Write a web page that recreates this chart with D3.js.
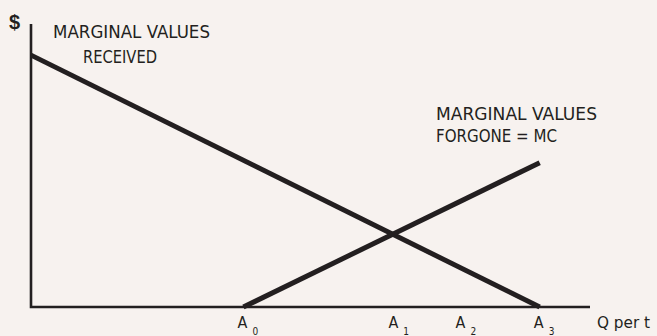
<!DOCTYPE html>
<html>
<head>
<meta charset="utf-8">
<script src="https://cdn.jsdelivr.net/npm/d3@7"></script>
<style>
  html, body { margin: 0; padding: 0; background: #f7f2ef; }
  svg { display: block; }
  text { font-family: "Liberation Sans Narrow", "DejaVu Sans Condensed", "Arial Narrow", sans-serif; fill: #231f20; }
</style>
</head>
<body>
<script>
// ---- data ----
const quantityTicks = [38, 65, 77, 91];          // A0, A1, A2, A3 on the Q axis
const tickNames = ["A", "A", "A", "A"];
const tickSubs = ["0", "1", "2", "3"];
const demandQ = [0, 91];                          // marginal values received
const demandV = [89, 0];
const supplyQ = [38, 91];                         // marginal values forgone = MC
const supplyV = [0, 51];
const labelReceived = ["MARGINAL VALUES", "RECEIVED"];
const labelForgone = ["MARGINAL VALUES", "FORGONE = MC"];
const yAxisLabel = "$";
const xAxisLabel = "Q per t";

const W = 657, H = 336;
const svg = d3.select("body").append("svg").attr("width", W).attr("height", H);

const x = d3.scaleLinear().domain([0, 100]).range([31, 590]);
const y = d3.scaleLinear().domain([0, 100]).range([307, 24]);
const ink = "#231f20";

// axes
svg.append("path")
  .attr("d", d3.line()([[x(0), y(100)], [x(0), y(0)], [x(100), y(0)]]))
  .attr("fill", "none").attr("stroke", ink).attr("stroke-width", 2.6)
  .attr("stroke-linejoin", "miter");

// curves
const line = d3.line().x(d => x(d[0])).y(d => y(d[1]));
const demand = demandQ.map((q, i) => [q, demandV[i]]);
const supply = supplyQ.map((q, i) => [q, supplyV[i]]);
[demand, supply].forEach(pts => {
  svg.append("path").attr("d", line(pts))
    .attr("fill", "none").attr("stroke", ink).attr("stroke-width", 5)
    .attr("stroke-linecap", "butt");
});

// tick labels A0..A3
const tg = svg.append("g");
quantityTicks.forEach((q, i) => {
  tg.append("text").attr("x", x(q) - 1).attr("y", 328)
    .attr("text-anchor", "middle").attr("font-size", 16).text(tickNames[i]);
  tg.append("text").attr("x", x(q) + 9).attr("y", 335)
    .attr("font-size", 10).text(tickSubs[i]);
});

// axis titles
svg.append("text").attr("x", 9).attr("y", 29)
  .attr("font-size", 20).attr("font-weight", "bold")
  .style("font-family", "'Liberation Sans', Arial, sans-serif").text(yAxisLabel);
svg.append("text").attr("x", 597).attr("y", 328)
  .attr("font-size", 16).attr("textLength", 53).attr("lengthAdjust", "spacingAndGlyphs")
  .text(xAxisLabel);

// curve labels
const lab = (txt, xx, yy, len) => svg.append("text").attr("x", xx).attr("y", yy)
  .attr("font-size", 18).attr("textLength", len).attr("lengthAdjust", "spacingAndGlyphs").text(txt);
lab(labelReceived[0], 53, 38, 157);
lab(labelReceived[1], 83, 63, 74);
lab(labelForgone[0], 436, 120, 161);
lab(labelForgone[1], 436, 142, 121);
</script>
</body>
</html>
